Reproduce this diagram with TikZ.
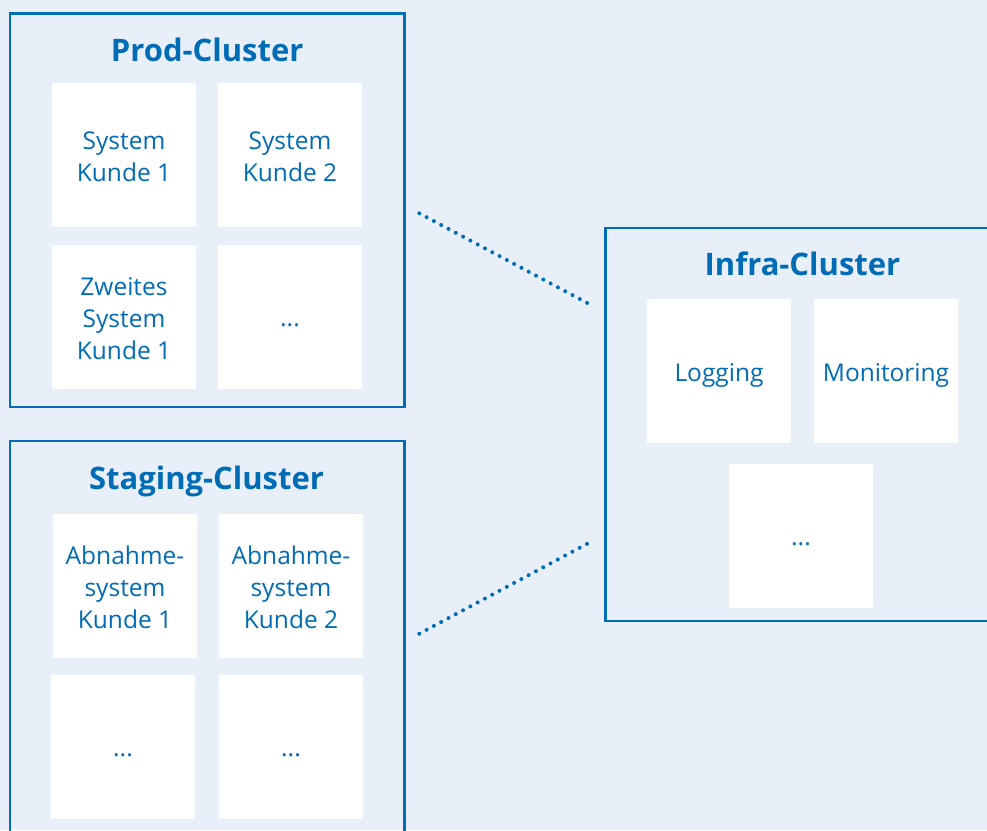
\documentclass[tikz,border=0pt]{standalone}
\usepackage{fontspec}
\setmainfont{Open Sans}
\definecolor{bluedark}{HTML}{006CB5}
\definecolor{bglight}{HTML}{E8EFF9}
\tikzset{
  cluster/.style={draw=bluedark, line width=2.5pt, fill=none, inner sep=0pt},
  title/.style={text=bluedark, font=\fontsize{31}{38}\selectfont\bfseries, inner sep=0pt, anchor=base},
  item/.style={fill=white, minimum width=144pt, minimum height=144pt, inner sep=0pt},
  itemtext/.style={text=bluedark, align=center, inner sep=0pt,
    font=\fontsize{24.5}{32}\selectfont},
  link/.style={draw=bluedark, line width=4pt, line cap=round, dash pattern=on 0pt off 8.27pt}
}
\begin{document}
\begin{tikzpicture}[x=1pt,y=-1pt]
  \useasboundingbox (0,0) rectangle (987,830);
  \fill[bglight] (0,0) rectangle (987,830);
  \begin{scope}
    \clip (0,0) rectangle (987,830);
    % cluster frames
    \node[cluster, minimum width=394.5pt, minimum height=393.7pt] (prod) at (207.25,210.15) {};
    \node[cluster, minimum width=394.5pt, minimum height=397pt] (staging) at (207.25,639.5) {};
    \node[cluster, minimum width=394.5pt, minimum height=393pt] (infra) at (802.75,424.5) {};

    % Prod-Cluster
    \node[title] (prodtitle) at (207.2,61) {Prod-Cluster};
    \node[item] (p1) at (124,155) {};
    \node[item] (p2) at (290,155) {};
    \node[item] (p3) at (124,317) {};
    \node[item] (p4) at (290,317) {};
    \node[itemtext] (p1t) at ([yshift=-3.6pt]p1.center) {\strut System\\Kunde 1\strut};
    \node[itemtext] (p2t) at ([yshift=-3.6pt]p2.center) {\strut System\\Kunde 2\strut};
    \node[itemtext] (p3t) at ([yshift=-3.6pt]p3.center) {\strut Zweites\\System\\Kunde 1\strut};
    \node[itemtext] (p4t) at ([yshift=-3.1pt]p4.center) {\strut...};

    % Staging-Cluster
    \node[title] (stagingtitle) at (206.5,489) {Staging-Cluster};
    \node[item] (s1) at (125,586) {};
    \node[item] (s2) at (291,586) {};
    \node[item] (s3) at (123,747) {};
    \node[item] (s4) at (291,747) {};
    \node[itemtext] (s1t) at ([yshift=-3.6pt]s1.center) {\strut Abnahme-\\system\\Kunde 1\strut};
    \node[itemtext] (s2t) at ([yshift=-3.6pt]s2.center) {\strut Abnahme-\\system\\Kunde 2\strut};
    \node[itemtext] (s3t) at ([yshift=-3.1pt]s3.center) {\strut...};
    \node[itemtext] (s4t) at ([yshift=-3.1pt]s4.center) {\strut...};

    % Infra-Cluster
    \node[title] (infratitle) at (802.5,275) {Infra-Cluster};
    \node[item] (i1) at (719,371) {};
    \node[item] (i2) at (886,371) {};
    \node[item] (i3) at (801,536) {};
    \node[itemtext] (i1t) at ([yshift=-3.6pt]i1.center) {\strut Logging};
    \node[itemtext] (i2t) at ([yshift=-3.6pt]i2.center) {\strut Monitoring};
    \node[itemtext] (i3t) at ([yshift=-3.1pt]i3.center) {\strut...};

    % dotted links between the clusters
    \coordinate (prodout) at (419.3,213.3);
    \coordinate (infrainA) at (587.3,303);
    \coordinate (stagingout) at (419.3,633.7);
    \coordinate (infrainB) at (587.3,543.7);
    \draw[link] (prodout) -- (infrainA);
    \draw[link] (stagingout) -- (infrainB);
  \end{scope}
\end{tikzpicture}
\end{document}
